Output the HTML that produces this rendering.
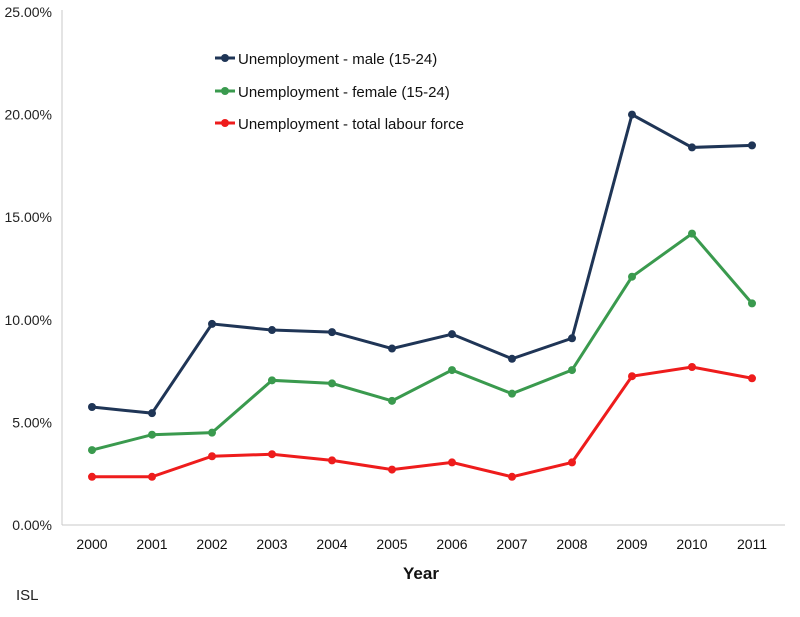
<!DOCTYPE html>
<html><head><meta charset="utf-8"><style>
body{margin:0;background:#fff;}
svg{display:block;font-family:"Liberation Sans",sans-serif;}
</style></head><body>
<svg id="chart" width="800" height="617">
<line x1="62" y1="10" x2="62" y2="525" stroke="#c8c8c8"/>
<line x1="62" y1="525" x2="785" y2="525" stroke="#c8c8c8"/>
<g id="yticks"></g>
<g id="xticks"></g>
<g id="series"></g>
<text x="421" y="579" font-size="17" font-weight="bold" text-anchor="middle" fill="#111">Year</text>
<text x="16" y="600" font-size="15" fill="#222">ISL</text>
<g>
<g><line x1="215" y1="58" x2="235" y2="58" stroke="#1f3556" stroke-width="3"/><circle cx="225" cy="58" r="4" fill="#1f3556"/><text x="238" y="64" font-size="15" fill="#111">Unemployment - male (15-24)</text></g>
<g><line x1="215" y1="91" x2="235" y2="91" stroke="#3a9a4e" stroke-width="3"/><circle cx="225" cy="91" r="4" fill="#3a9a4e"/><text x="238" y="97" font-size="15" fill="#111">Unemployment - female (15-24)</text></g>
<g><line x1="215" y1="123" x2="235" y2="123" stroke="#ee1c1c" stroke-width="3"/><circle cx="225" cy="123" r="4" fill="#ee1c1c"/><text x="238" y="129" font-size="15" fill="#111">Unemployment - total labour force</text></g>
</g>
</svg>
<script>
const years=["2000","2001","2002","2003","2004","2005","2006","2007","2008","2009","2010","2011"];
const maleValues=[5.75,5.45,9.8,9.5,9.4,8.6,9.3,8.1,9.1,20.0,18.4,18.5];
const femaleValues=[3.65,4.4,4.5,7.05,6.9,6.05,7.55,6.4,7.55,12.1,14.2,10.8];
const totalValues=[2.35,2.35,3.35,3.45,3.15,2.7,3.05,2.35,3.05,7.25,7.7,7.15];
const yTickLabels=["0.00%","5.00%","10.00%","15.00%","20.00%","25.00%"];
const yTickValues=[0,5,10,15,20,25];
const NS="http://www.w3.org/2000/svg";
const xScale=i=>92+i*60;
const yScale=v=>525-v*(513/25);
const yt=document.getElementById('yticks');
yTickValues.forEach((v,i)=>{
 const t=document.createElementNS(NS,'text');
 
 
 t.setAttribute('x',52);t.setAttribute('y',yScale(v)+5);
 t.setAttribute('text-anchor','end');t.setAttribute('font-size','14');t.setAttribute('fill','#222');
 t.textContent=yTickLabels[i];yt.appendChild(t);
});
const xt=document.getElementById('xticks');
years.forEach((y,i)=>{
 const t=document.createElementNS(NS,'text');
 
 
 t.setAttribute('x',xScale(i));t.setAttribute('y',549);
 t.setAttribute('text-anchor','middle');t.setAttribute('font-size','14');t.setAttribute('fill','#111');
 t.textContent=y;xt.appendChild(t);
});
const sg=document.getElementById('series');
function draw(vals,color,name){
 const p=document.createElementNS(NS,'polyline');
 
 
 p.setAttribute('points',vals.map((v,i)=>xScale(i)+','+yScale(v)).join(' '));
 p.setAttribute('fill','none');p.setAttribute('stroke',color);p.setAttribute('stroke-width','3');
 sg.appendChild(p);
 vals.forEach((v,i)=>{
  const c=document.createElementNS(NS,'circle');
  
  
  c.setAttribute('cx',xScale(i));c.setAttribute('cy',yScale(v));c.setAttribute('r','4');c.setAttribute('fill',color);
  sg.appendChild(c);
 });
}
draw(totalValues,'#ee1c1c','total');
draw(femaleValues,'#3a9a4e','female');
draw(maleValues,'#1f3556','male');
</script>
</body></html>
